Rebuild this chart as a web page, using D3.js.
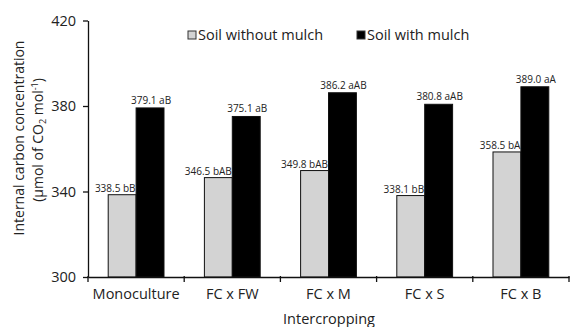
<!DOCTYPE html>
<html><head><meta charset="utf-8">
<script src="https://cdn.jsdelivr.net/npm/d3@7"></script>
<style>body{margin:0;background:#fff}svg{display:block}text{font-family:"Century Gothic","URW Gothic","Open Sans",sans-serif;fill:#222}</style>
</head><body><svg id="c" width="571" height="327"></svg>
<script>
const categories = ["Monoculture","FC x FW","FC x M","FC x S","FC x B"];
const seriesNames = ["Soil without mulch","Soil with mulch"];
const withoutMulch = [338.5,346.5,349.8,338.1,358.5];
const withMulch = [379.1,375.1,386.2,380.8,389.0];
const withoutLetters = ["bB","bAB","bAB","bB","bA"];
const withLetters = ["aB","aB","aAB","aAB","aA"];
const yTicks = [300,340,380,420];
const colors = ["#d3d3d3","#000000"];

const svg = d3.select("#c");
const x = d3.scaleBand().domain(categories).range([88,569]);
const y = d3.scaleLinear().domain([300,420]).range([277,20.5]);
const bw = x.bandwidth()*0.29;

const g = svg.append("g");
categories.forEach((c,i)=>{
  const cx = x(c)+x.bandwidth()/2;
  g.append("rect").attr("x",cx-bw).attr("y",y(withoutMulch[i])).attr("width",bw).attr("height",y(300)-y(withoutMulch[i]))
    .attr("fill",colors[0]).attr("stroke","#111").attr("stroke-width",1);
  g.append("rect").attr("x",cx).attr("y",y(withMulch[i])).attr("width",bw).attr("height",y(300)-y(withMulch[i]))
    .attr("fill",colors[1]).attr("stroke","#111").attr("stroke-width",1);
  g.append("text").attr("x",cx-0.5).attr("y",y(withoutMulch[i])-3).attr("text-anchor","end")
    .attr("font-size",10).text(withoutMulch[i].toFixed(1)+" "+withoutLetters[i]);
  g.append("text").attr("x",cx+bw/2+1).attr("y",y(withMulch[i])-4).attr("text-anchor","middle")
    .attr("font-size",10).text(withMulch[i].toFixed(1)+" "+withLetters[i]);
});

const ya = svg.append("g").attr("transform","translate(88,0)")
  .call(d3.axisLeft(y).tickValues(yTicks).tickSize(5).tickSizeOuter(0).tickFormat(d3.format("d")));
ya.selectAll("text").attr("font-size",14.5).attr("dx",-4).style("font-family",null);
ya.select(".domain").attr("stroke","#111").attr("stroke-width",1.3);
ya.selectAll("line").attr("stroke","#111").attr("stroke-width",1.3);

const xa = svg.append("g").attr("transform","translate(0,277)")
  .call(d3.axisBottom(x).tickSize(0).tickSizeOuter(0));
xa.select(".domain").attr("stroke","#111").attr("stroke-width",1.3);
xa.selectAll("text").attr("font-size",14.5).attr("dy","1.3em").style("font-family",null);
const bounds = categories.map(c=>x(c)+x.bandwidth()).concat([88]);
xa.selectAll(".sep").data(bounds).enter().append("line").attr("class","sep")
  .attr("x1",d=>d).attr("x2",d=>d).attr("y1",-1).attr("y2",5).attr("stroke","#111").attr("stroke-width",1.3);
svg.selectAll(".domain").attr("fill","none");

svg.append("text").attr("x",329).attr("y",324).attr("text-anchor","middle").attr("font-size",14.5).text("Intercropping");
const yt = svg.append("text").attr("transform","translate(24,138) rotate(-90)").attr("text-anchor","middle").attr("font-size",14);
yt.append("tspan").attr("x",0).attr("dy",0).text("Internal carbon concentration");
const t2 = yt.append("tspan").attr("x",-2).attr("dy",19);
t2.append("tspan").text("(µmol of CO");
t2.append("tspan").attr("font-size",9).attr("dy",3).text("2");
t2.append("tspan").attr("dy",-3).text(" mol");
t2.append("tspan").attr("font-size",9).attr("dy",-5).text("-1");
t2.append("tspan").attr("dy",5).text(")");

const legX = [188,357];
seriesNames.forEach((s,i)=>{
  svg.append("rect").attr("x",legX[i]).attr("y",31).attr("width",8).attr("height",8)
    .attr("fill",colors[i]).attr("stroke","#333").attr("stroke-width",1);
  svg.append("text").attr("x",legX[i]+10).attr("y",40).attr("font-size",14.5).text(s);
});
</script></body></html>
